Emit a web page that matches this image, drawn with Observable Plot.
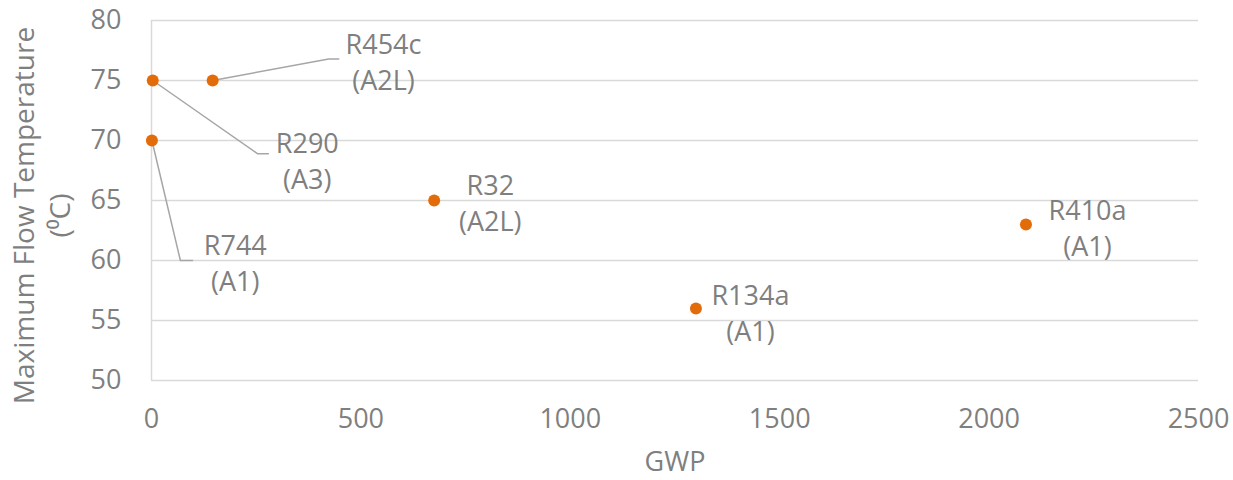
<!DOCTYPE html>
<html><head><meta charset="utf-8">
<script src="https://cdn.jsdelivr.net/npm/d3@7"></script>
<script src="https://cdn.jsdelivr.net/npm/@observablehq/plot@0.6"></script>
<style>body{margin:0;background:#fff;} svg{display:block;}</style>
</head><body><div id="chart"></div>
<script>
const refrigerants = ["R744", "R290", "R454c", "R32", "R134a", "R410a"];
const classes = ["(A1)", "(A3)", "(A2L)", "(A2L)", "(A1)", "(A1)"];
const gwp = [1, 3, 146, 675, 1300, 2088];
const maxFlowTemp = [70, 75, 75, 65, 56, 63];
// label centres (data units)
const labelGwp = [200, 372, 554, 809, 1430, 2235];
const labelTemp = [59.9, 68.4, 76.7, 64.9, 55.75, 62.8];
// leader lines: elbow and end (data units), null = no leader
const leaderElbowGwp = [69, 253, 423, null, null, null];
const leaderElbowTemp = [60, 68.9, 76.8, null, null, null];
const leaderEndGwp = [98, 279, 447, null, null, null];
const xTicks = [0, 500, 1000, 1500, 2000, 2500];
const yTicks = [50, 55, 60, 65, 70, 75, 80];

const pts = refrigerants.map((r, i) => ({name: r, cls: classes[i], x: gwp[i], y: maxFlowTemp[i],
  lx: labelGwp[i], ly: labelTemp[i]}));
const leaders = [];
pts.forEach((p, i) => {
  if (leaderElbowGwp[i] == null) return;
  leaders.push({k: p.name, x: p.x, y: p.y});
  leaders.push({k: p.name, x: leaderElbowGwp[i], y: leaderElbowTemp[i]});
  leaders.push({k: p.name, x: leaderEndGwp[i], y: leaderElbowTemp[i]});
});

const font = "'Open Sans', sans-serif";
const fs = 27;
const chart = Plot.plot({
  width: 1233, height: 480,
  marginLeft: 151, marginRight: 35, marginTop: 20, marginBottom: 100,
  style: {fontFamily: font, fontSize: fs + "px", color: "#7f7f7f", background: "#fff"},
  x: {domain: [0, 2500], label: null},
  y: {domain: [50, 80], label: null},
  marks: [
    Plot.ruleY(yTicks, {stroke: "#d9d9d9", strokeWidth: 1.5}),
    Plot.ruleX([0], {stroke: "#d9d9d9", strokeWidth: 1.5}),
    Plot.axisX({ticks: xTicks, tickFormat: d3.format("d"), tickSize: 0, tickPadding: 28, fontSize: fs, fill: "#7f7f7f", label: null}),
    Plot.axisY({ticks: yTicks, tickSize: 0, tickPadding: 30, fontSize: fs, fill: "#7f7f7f", label: null}),
    Plot.line(leaders, {x: "x", y: "y", z: "k", stroke: "#a6a6a6", strokeWidth: 1.5, curve: "linear"}),
    Plot.dot(pts, {x: "x", y: "y", r: 6, fill: "#e36c0a", stroke: "none"}),
    Plot.text(pts, {x: "lx", y: "ly", text: d => d.name + "\n" + d.cls, fill: "#7f7f7f",
      fontSize: fs, lineHeight: 1.33, textAnchor: "middle"}),
    Plot.text(["GWP"], {frameAnchor: "bottom", dy: 90, fill: "#7f7f7f", fontSize: fs}),
    Plot.text(["Maximum Flow Temperature\n(⁰C)"], {frameAnchor: "left", dx: -111, dy: 15, rotate: -90,
      fill: "#7f7f7f", fontSize: 28, lineHeight: 1.3, textAnchor: "middle"})
  ]
});
document.getElementById("chart").appendChild(chart);
</script></body></html>
